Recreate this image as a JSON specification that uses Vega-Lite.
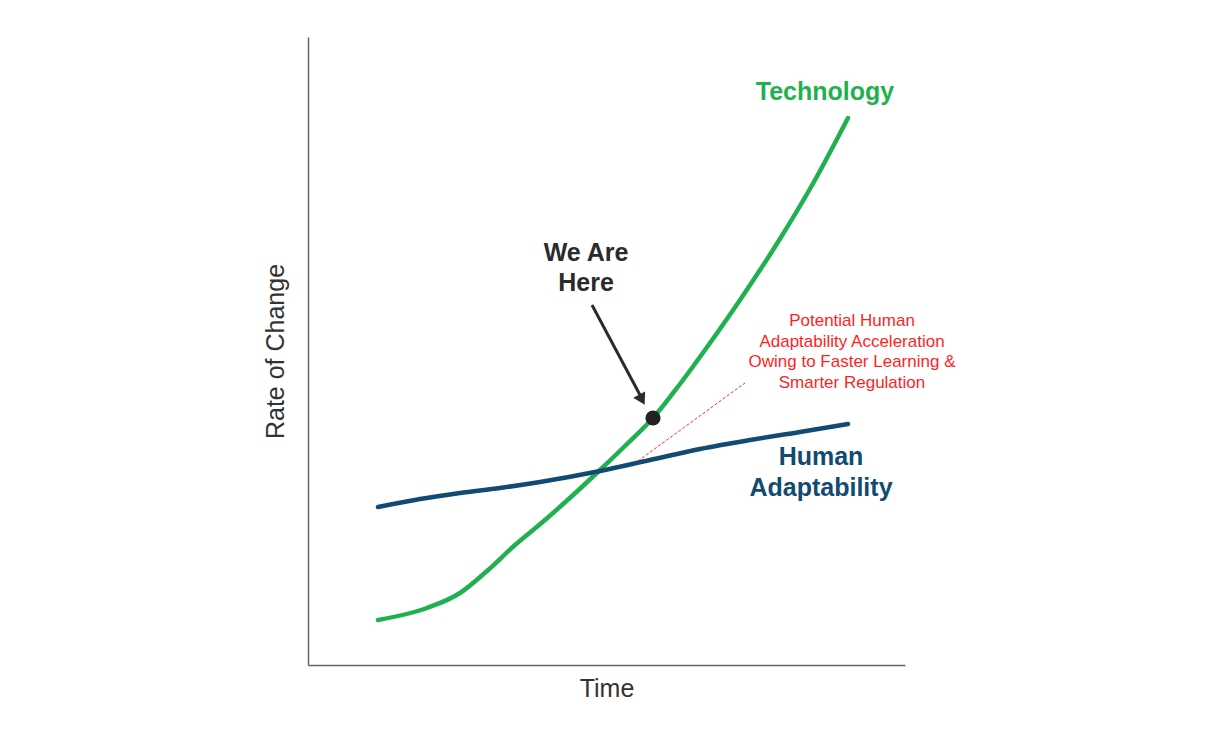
{
  "$schema": "https://vega.github.io/schema/vega-lite/v6.json",
  "width": 597,
  "height": 628,
  "autosize": "none",
  "padding": {"left": 308, "top": 37, "right": 311, "bottom": 67},
  "background": "white",
  "config": {"view": {"stroke": null}, "font": "Liberation Sans"},
  "datasets": {
    "curves": [
      {"series": "Technology", "t": 70, "v": 45},
      {"series": "Technology", "t": 119, "v": 57},
      {"series": "Technology", "t": 152, "v": 72},
      {"series": "Technology", "t": 179, "v": 94},
      {"series": "Technology", "t": 207, "v": 120},
      {"series": "Technology", "t": 237, "v": 145},
      {"series": "Technology", "t": 264, "v": 169},
      {"series": "Technology", "t": 292, "v": 195},
      {"series": "Technology", "t": 318, "v": 220},
      {"series": "Technology", "t": 345, "v": 247},
      {"series": "Technology", "t": 372, "v": 281},
      {"series": "Technology", "t": 402, "v": 322},
      {"series": "Technology", "t": 432, "v": 365},
      {"series": "Technology", "t": 470, "v": 423},
      {"series": "Technology", "t": 507, "v": 485},
      {"series": "Technology", "t": 540, "v": 547},
      {"series": "Human Adaptability", "t": 70, "v": 158},
      {"series": "Human Adaptability", "t": 112, "v": 166},
      {"series": "Human Adaptability", "t": 152, "v": 172},
      {"series": "Human Adaptability", "t": 192, "v": 177},
      {"series": "Human Adaptability", "t": 232, "v": 183},
      {"series": "Human Adaptability", "t": 292, "v": 194},
      {"series": "Human Adaptability", "t": 342, "v": 205},
      {"series": "Human Adaptability", "t": 392, "v": 216},
      {"series": "Human Adaptability", "t": 442, "v": 225},
      {"series": "Human Adaptability", "t": 492, "v": 233},
      {"series": "Human Adaptability", "t": 540, "v": 241}
    ],
    "potential": [
      {"t": 330, "v": 204},
      {"t": 437, "v": 282}
    ],
    "arrow": [
      {"t": 284, "v": 360, "t2": 332, "v2": 270}
    ],
    "arrowhead": [
      {"t": 333, "v": 267}
    ],
    "here": [
      {"t": 345, "v": 247}
    ],
    "labels": [
      {"t": 517, "v": 573, "label": "Technology", "kind": "tech"},
      {"t": 278, "v": 412, "label": "We Are", "kind": "here"},
      {"t": 278, "v": 382, "label": "Here", "kind": "here"},
      {"t": 513, "v": 208, "label": "Human", "kind": "human"},
      {"t": 513, "v": 177, "label": "Adaptability", "kind": "human"}
    ],
    "notes": [
      {"t": 544, "v": 344, "label": "Potential Human"},
      {"t": 544, "v": 323, "label": "Adaptability Acceleration"},
      {"t": 544, "v": 303, "label": "Owing to Faster Learning &"},
      {"t": 544, "v": 282, "label": "Smarter Regulation"}
    ]
  },
  "layer": [
    {
      "data": {"name": "curves"},
      "mark": {"type": "line", "interpolate": "monotone", "strokeWidth": 4.5, "strokeCap": "round"},
      "encoding": {
        "x": {"field": "t", "type": "quantitative", "scale": {"domain": [0, 597], "nice": false, "zero": false},
          "axis": {"title": "Time", "labels": false, "ticks": false, "grid": false, "domainColor": "#666666", "domainWidth": 1.5, "titleFontSize": 25, "titleFontWeight": "normal", "titleColor": "#333333", "titlePadding": 11, "titleFont": "Liberation Sans"}},
        "y": {"field": "v", "type": "quantitative", "scale": {"domain": [0, 628], "nice": false, "zero": false},
          "axis": {"title": "Rate of Change", "labels": false, "ticks": false, "grid": false, "domainColor": "#666666", "domainWidth": 1.5, "titleFontSize": 25, "titleFontWeight": "normal", "titleColor": "#333333", "titlePadding": 20, "titleFont": "Liberation Sans"}},
        "color": {"field": "series", "type": "nominal", "scale": {"domain": ["Technology", "Human Adaptability"], "range": ["#1fb14e", "#124b72"]}, "legend": null},
        "order": {"field": "t", "type": "quantitative"}
      }
    },
    {
      "data": {"name": "potential"},
      "mark": {"type": "line", "color": "#ff2a2a", "strokeWidth": 1, "strokeDash": [3, 2]},
      "encoding": {
        "x": {"field": "t", "type": "quantitative"},
        "y": {"field": "v", "type": "quantitative"}
      }
    },
    {
      "data": {"name": "arrow"},
      "mark": {"type": "rule", "color": "#2b2b2b", "strokeWidth": 3},
      "encoding": {
        "x": {"field": "t", "type": "quantitative"},
        "y": {"field": "v", "type": "quantitative"},
        "x2": {"field": "t2"},
        "y2": {"field": "v2"}
      }
    },
    {
      "data": {"name": "arrowhead"},
      "mark": {"type": "point", "shape": "triangle", "filled": true, "color": "#2b2b2b", "size": 180, "angle": 152, "opacity": 1},
      "encoding": {
        "x": {"field": "t", "type": "quantitative"},
        "y": {"field": "v", "type": "quantitative"}
      }
    },
    {
      "data": {"name": "here"},
      "mark": {"type": "circle", "color": "#222222", "size": 230, "opacity": 1},
      "encoding": {
        "x": {"field": "t", "type": "quantitative"},
        "y": {"field": "v", "type": "quantitative"}
      }
    },
    {
      "data": {"name": "labels"},
      "mark": {"type": "text", "fontSize": 25, "fontWeight": "bold", "align": "center", "baseline": "middle", "font": "Liberation Sans"},
      "encoding": {
        "x": {"field": "t", "type": "quantitative"},
        "y": {"field": "v", "type": "quantitative"},
        "text": {"field": "label"},
        "color": {"field": "kind", "type": "nominal", "scale": {"domain": ["tech", "here", "human"], "range": ["#1fb14e", "#2b2b2b", "#124b72"]}, "legend": null}
      }
    },
    {
      "data": {"name": "notes"},
      "mark": {"type": "text", "fontSize": 17, "align": "center", "baseline": "middle", "color": "#ff1f1f", "font": "Liberation Sans"},
      "encoding": {
        "x": {"field": "t", "type": "quantitative"},
        "y": {"field": "v", "type": "quantitative"},
        "text": {"field": "label"}
      }
    }
  ],
  "resolve": {"scale": {"color": "independent"}}
}
